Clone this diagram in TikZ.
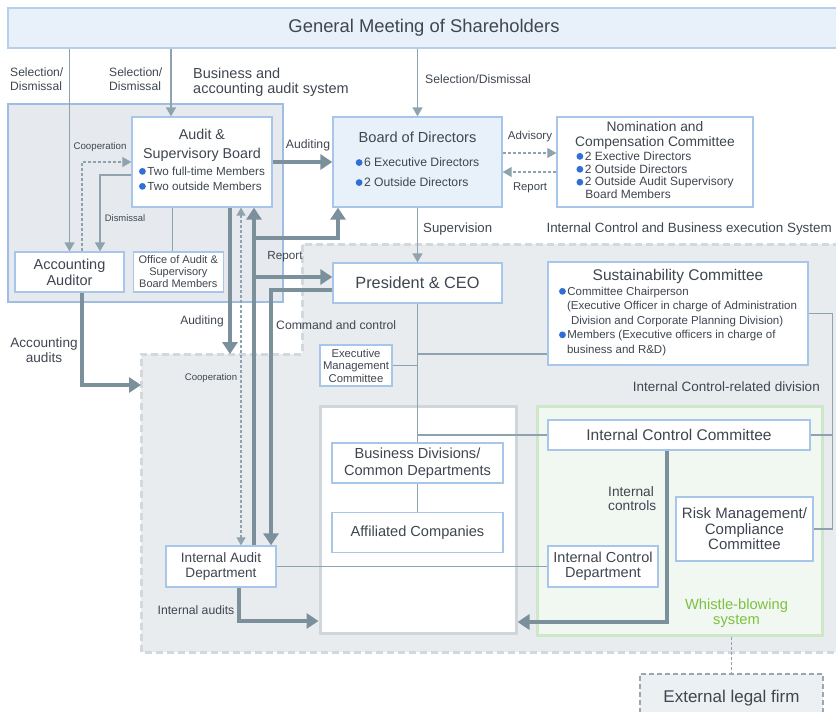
\documentclass[tikz,border=0pt]{standalone}
\usepackage{fontspec}
\setmainfont{Liberation Sans}
\usepackage{xcolor}
\usetikzlibrary{arrows.meta,positioning,backgrounds}

\definecolor{txt}{HTML}{3F4650}
\definecolor{boxblue}{HTML}{A8C5EA}
\definecolor{paleblue}{HTML}{E8F0FA}
\definecolor{gmline}{HTML}{B8CFEA}
\definecolor{regiongrey}{HTML}{E9ECEF}
\definecolor{regionline}{HTML}{D2D8DD}
\definecolor{auditfill}{HTML}{E6E9ED}
\definecolor{auditline}{HTML}{9FBDE3}
\definecolor{opsline}{HTML}{D0D7DC}
\definecolor{greenfill}{HTML}{F1F7F1}
\definecolor{greenline}{HTML}{CFE7C9}
\definecolor{linegrey}{HTML}{8FA3AF}
\definecolor{arrowgrey}{HTML}{7C909C}
\definecolor{dotblue}{HTML}{2F6FD6}
\definecolor{wbgreen}{HTML}{7DC142}
\definecolor{extfill}{HTML}{EDF0F2}
\definecolor{extline}{HTML}{9AA7B0}

\newcommand{\fsz}[2]{\fontsize{#1}{#2}\selectfont}
\newcommand{\bul}{\tikz[baseline=-3.8pt]\fill[dotblue] (0,0) circle (3.4pt);\hspace{1.5pt}}
\newcommand{\leftlist}[1]{\begin{tabular}{@{}l@{}}#1\end{tabular}}

\begin{document}
\begin{tikzpicture}[
    x=1pt, y=-1pt,
    box/.style={draw=boxblue, line width=1.3pt, fill=white, align=center, inner sep=0pt, text=txt},
    lbl/.style={text=txt, align=center, inner sep=0pt},
    region/.style={inner sep=0pt, line width=3pt},
    link/.style={draw=linegrey, line width=1.3pt},
    arrow/.style={link, -{Triangle[length=9pt,width=10pt]}},
    dasharrow/.style={arrow, line width=1.1pt, dash pattern=on 3pt off 2pt},
    heavy/.style={draw=arrowgrey, line width=4pt, -{Triangle[length=12pt,width=15pt]}}
]
\useasboundingbox (0,0) rectangle (836,712);

\begin{scope}[on background layer]
\fill[regiongrey] (840,244) -- (302,244) -- (302,354) -- (141,354) -- (141,652) -- (840,652) -- cycle;
\draw[regionline, line width=3pt, dash pattern=on 7pt off 4pt] (840,244) -- (302,244) -- (302,354) -- (141,354) -- (141,652) -- (840,652);
\node[region, draw=auditline, line width=2.5pt, fill=auditfill, minimum width=275pt, minimum height=198pt] (auditsys) at (145.5,203) {};
\node[region, draw=opsline, fill=white, minimum width=196pt, minimum height=227pt] (opsbox) at (418,519.5) {};
\node[region, draw=greenline, fill=greenfill, minimum width=285pt, minimum height=229pt] (greenbox) at (679.5,520.5) {};
\end{scope}

\node[box, fill=paleblue, draw=gmline, minimum width=832pt, minimum height=40pt, font=\fsz{18.4}{22}] (gm) at (424,28) {General Meeting of Shareholders};

\node[box, minimum width=140pt, minimum height=90pt, font=\fsz{14.3}{19}] (asb) at (202,162) {Audit \&\\Supervisory Board\\[2pt]{\fsz{11.7}{15}\leftlist{\bul Two full-time Members\\\bul Two outside Members}}};
\node[box, minimum width=109pt, minimum height=40pt, font=\fsz{14.5}{16}] (accaud) at (69.5,272) {Accounting\\Auditor};
\node[box, right=8pt of accaud, minimum width=90pt, minimum height=40pt, font=\fsz{11}{12}] (office) {Office of Audit \&\\Supervisory\\Board Members};

\node[box, fill=paleblue, minimum width=169pt, minimum height=90pt, font=\fsz{14.6}{18}] (bod) at (417.5,162) {Board of Directors\\[9pt]{\fsz{12.2}{20}\leftlist{\bul 6 Executive Directors\\\bul 2 Outside Directors}}};
\node[box, minimum width=196pt, minimum height=90pt, font=\fsz{13.8}{15}] (nc) at (655,162) {Nomination and\\Compensation Committee\\[1pt]{\fsz{12}{12.9}\leftlist{\bul 2 Exective Directors\\\bul 2 Outside Directors\\\bul 2 Outside Audit Supervisory\\\hspace{9pt}Board Members}}};

\node[box, minimum width=169pt, minimum height=40pt, font=\fsz{16.3}{19}] (pres) at (417.5,283) {President \& CEO};
\node[box, minimum width=260pt, minimum height=103pt, font=\fsz{15.5}{18}] (sust) at (678,313.5) {Sustainability Committee\\{\fsz{11.5}{14.5}\leftlist{\bul Committee Chairperson\\\hspace{8pt}(Executive Officer in charge of Administration\\\hspace{12pt}Division and Corporate Planning Division)\\\bul Members (Executive officers in charge of\\\hspace{8pt}business and R\&D)}}};
\node[box, minimum width=72pt, minimum height=41pt, font=\fsz{11.3}{12.5}] (emc) at (356,365.5) {Executive\\Management\\Committee};

\node[box, minimum width=171pt, minimum height=40pt, font=\fsz{14.6}{17}] (busdiv) at (417.5,463) {Business Divisions/\\Common Departments};
\node[box, below=28pt of busdiv, minimum width=171pt, minimum height=40pt, font=\fsz{14.6}{17}] (affil) {Affiliated Companies};
\node[box, minimum width=262pt, minimum height=30pt, font=\fsz{15.5}{18}] (icc) at (679,435) {Internal Control Committee};
\node[box, minimum width=137pt, minimum height=64pt, font=\fsz{15}{15.5}] (risk) at (744.5,529) {Risk Management/\\Compliance\\Committee};
\node[box, minimum width=110pt, minimum height=41pt, font=\fsz{14.5}{15}] (icd) at (603,566.5) {Internal Control\\Department};
\node[box, minimum width=110pt, minimum height=41pt, font=\fsz{13.6}{15}] (iad) at (221,566.5) {Internal Audit\\Department};
\node[box, draw=extline, dash pattern=on 5pt off 3pt, fill=extfill, minimum width=183pt, minimum height=48pt, font=\fsz{17}{20}] (ext) at (731.5,698) {External legal firm};

\node[lbl, font=\fsz{12.1}{14}, align=left, anchor=west] (selacc) at (10,79) {Selection/\\Dismissal};
\node[lbl, font=\fsz{12.1}{14}, align=left, anchor=west] (selasb) at (109,79) {Selection/\\Dismissal};
\node[lbl, font=\fsz{14.5}{14.5}, align=left, anchor=west] (systitle) at (193,82) {Business and\\accounting audit system};
\node[lbl, font=\fsz{12.2}{14}, anchor=west] (selbod) at (425,79) {Selection/Dismissal};
\node[lbl, font=\fsz{9.7}{11}] (coopacc) at (100,147) {Cooperation};
\node[lbl, font=\fsz{9.4}{11}] (dism) at (125,218) {Dismissal};
\node[lbl, font=\fsz{12.2}{14}] (auditbod) at (308,145) {Auditing};
\node[lbl, font=\fsz{11.5}{14}] (advis) at (530,137) {Advisory};
\node[lbl, font=\fsz{11.3}{14}] (repnc) at (530,188) {Report};
\node[lbl, font=\fsz{13.2}{15}, anchor=west] (superv) at (423,229) {Supervision};
\node[lbl, font=\fsz{13.4}{15}, anchor=east] (ictitle) at (832,229) {Internal Control and Business execution System};
\node[lbl, font=\fsz{11.7}{14}] (repiad) at (285,257) {Report};
\node[lbl, font=\fsz{12.2}{14}, anchor=west] (cmd) at (276,325) {Command and control};
\node[lbl, font=\fsz{12}{14}] (auditdown) at (202,321) {Auditing};
\node[lbl, font=\fsz{13.6}{15}] (accaudits) at (44,350) {Accounting\\audits};
\node[lbl, font=\fsz{9.6}{11}] (coopiad) at (211,378) {Cooperation};
\node[lbl, font=\fsz{13.5}{15}, anchor=east] (icrtitle) at (820,387) {Internal Control-related division};
\node[lbl, font=\fsz{13.7}{14}, align=left, anchor=west] (ctrls) at (608,499) {Internal\\controls};
\node[lbl, font=\fsz{14.7}{15}, text=wbgreen] (whistle) at (736.5,613.5) {Whistle-blowing\\system};
\node[lbl, font=\fsz{12.2}{14}] (iaudits) at (196,610) {Internal audits};

\coordinate (asbin) at ([xshift=-31pt]asb.north);
\coordinate (officein) at ([xshift=-6pt]office.north);
\coordinate (dismout) at ([yshift=-13pt]asb.west);
\coordinate (dismin) at ([xshift=30.5pt]accaud.north);
\coordinate (coopout) at ([xshift=12.5pt]accaud.north);
\coordinate (accout) at ([xshift=12.5pt]accaud.south);
\coordinate (accin) at (141,385);
\coordinate (advout) at ([yshift=9pt]bod.east);
\coordinate (repout) at ([yshift=-10pt]nc.west);
\coordinate (auditdn) at ([xshift=28pt]asb.south);
\coordinate (auditdnend) at (230,354);
\coordinate (coopup) at ([xshift=39pt]asb.south);
\coordinate (coopdn) at ([xshift=20pt]iad.north);
\coordinate (repup) at ([xshift=52pt]asb.south);
\coordinate (repbase) at ([xshift=33pt]iad.north);
\coordinate (reppres) at ([yshift=6pt]pres.west);
\coordinate (repbod) at ([xshift=-79.5pt]bod.south);
\coordinate (repturn) at ([yshift=-30pt]repbod);
\coordinate (cmdout) at ([yshift=-7pt]pres.west);
\coordinate (cmdin) at ([xshift=50pt]iad.north);
\coordinate (sustlink) at ([yshift=-40.5pt]sust.west);
\coordinate (bar) at ([xshift=24pt]sust.east);
\coordinate (ctrlout) at ([xshift=-12pt]icc.south);
\coordinate (ctrlin) at ([yshift=-102.5pt]opsbox.east);
\coordinate (iaout) at ([xshift=18pt]iad.south);
\coordinate (iain) at ([yshift=-101.5pt]opsbox.west);

\draw[arrow] (accaud.north |- gm.south) -- (accaud.north);
\draw[arrow] (asbin |- gm.south) -- (asbin);
\draw[arrow] (bod.north |- gm.south) -- (bod.north);
\draw[link] (officein |- asb.south) -- (officein);
\draw[arrow] (dismout) -| (dismin);
\draw[dasharrow] (coopout) |- (asb.west);
\draw[heavy] (accout) |- (accin);
\draw[heavy] (asb.east) -- (bod.west);
\draw[dasharrow] (advout) -- (advout -| nc.west);
\draw[dasharrow] (repout) -- (repout -| bod.east);
\draw[arrow] (bod.south) -- (pres.north);
\draw[heavy] (auditdn) -- (auditdnend);
\draw[dasharrow, {Triangle[length=8pt,width=9pt]}-{Triangle[length=8pt,width=9pt]}] (coopdn) -- (coopup);
\draw[heavy] (repbase) -- (repup);
\draw[heavy] (repbase |- reppres) -- (reppres);
\draw[heavy] (repbase |- repturn) -| (repbod);
\draw[heavy] (cmdout) -| (cmdin);
\draw[link] (pres.south) -- (busdiv.north);
\draw[link] (pres.south |- sustlink) -- (sustlink);
\draw[link] (pres.south |- emc.east) -- (emc.east);
\draw[link] (pres.south |- icc.west) -- (icc.west);
\draw[link] (busdiv.south) -- (affil.north);
\draw[link] (sust.east) -- (bar) |- (risk.east);
\draw[link] (icc.east) -- (icc.east -| bar);
\draw[heavy] (ctrlout) |- (ctrlin);
\draw[heavy] (iaout) |- (iain);
\draw[link] (iad.east) -- (icd.west);
\draw[link, dash pattern=on 3pt off 2pt] (ext.north |- greenbox.south) -- (ext.north);
\end{tikzpicture}
\end{document}
